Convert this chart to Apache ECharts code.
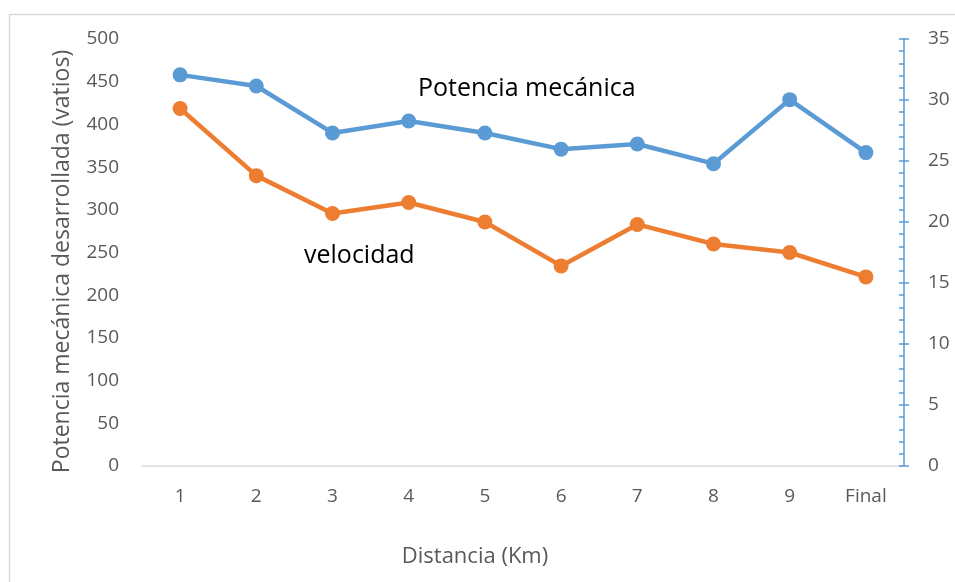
<!DOCTYPE html>
<html>
<head>
<meta charset="utf-8">
<script src="https://cdn.jsdelivr.net/npm/echarts@6/dist/echarts.min.js"></script>
<style>
  html, body { margin: 0; padding: 0; background: #fff; }
  #main { width: 955px; height: 582px; }
</style>
</head>
<body>
<div id="main"></div>
<script>
// datos
var categorias = ['1', '2', '3', '4', '5', '6', '7', '8', '9', 'Final'];
var potencia = [458, 445, 390, 404, 390, 371, 377, 354, 429, 367];
var velocidad = [29.3, 23.8, 20.7, 21.6, 20.0, 16.4, 19.8, 18.2, 17.5, 15.5];

var fuente = '"Open Sans", "Liberation Sans", sans-serif';
var azul = '#5b9bd5';
var naranja = '#ed7d31';

var myChart = echarts.init(document.getElementById('main'));

var option = {
    animation: false,
    textStyle: { fontFamily: fuente },
    grid: { left: 142, right: 51, top: 39, bottom: 116 },
    graphic: [
        {
            type: 'rect',
            shape: { x: 9.5, y: 14.5, width: 1000, height: 1000 },
            style: { fill: 'none', stroke: '#d9d9d9', lineWidth: 1.5 },
            silent: true
        },
        {
            type: 'text', left: 418, top: 76,
            style: { text: 'Potencia mecánica', fontSize: 25, fill: '#000', fontFamily: fuente }
        },
        {
            type: 'text', left: 304, top: 243,
            style: { text: 'velocidad', fontSize: 25, fill: '#000', fontFamily: fuente }
        }
    ],
    xAxis: {
        type: 'category',
        data: categorias,
        boundaryGap: true,
        axisLine: { lineStyle: { color: '#d9d9d9', width: 1.5 } },
        axisTick: { show: false },
        axisLabel: { color: '#595959', fontSize: 19, margin: 21 },
        name: 'Distancia (Km)',
        nameLocation: 'middle',
        nameGap: 80,
        nameTextStyle: { color: '#595959', fontSize: 22, padding: [0, 96, 0, 0] }
    },
    yAxis: [
        {
            type: 'value',
            min: 0, max: 500, interval: 50,
            axisLine: { show: false },
            axisTick: { show: false },
            splitLine: { show: false },
            axisLabel: { color: '#595959', fontSize: 19, margin: 23 },
            name: 'Potencia mecánica desarrollada (vatios)',
            nameLocation: 'middle',
            nameGap: 68,
            nameTextStyle: { color: '#595959', fontSize: 23, padding: [0, 18, 0, 0] }
        },
        {
            type: 'value',
            position: 'right',
            min: 0, max: 35, interval: 5,
            axisLine: { show: true, lineStyle: { color: azul, width: 1.5 } },
            axisTick: { show: true, inside: true, length: 5, lineStyle: { color: azul, width: 1.5 } },
            minorTick: { show: true, splitNumber: 5, length: 5, lineStyle: { color: azul, width: 1.5 } },
            splitLine: { show: false },
            axisLabel: { color: '#595959', fontSize: 19, margin: 24 }
        },
        {
            // marcas exteriores del eje derecho (cruzadas)
            type: 'value',
            position: 'right',
            min: 0, max: 35, interval: 5,
            axisLine: { show: false },
            axisTick: { show: true, inside: false, length: 5, lineStyle: { color: azul, width: 1.5 } },
            splitLine: { show: false },
            axisLabel: { show: false }
        }
    ],
    series: [
        {
            name: 'Potencia mecánica',
            type: 'line',
            yAxisIndex: 0,
            data: potencia,
            symbol: 'circle',
            symbolSize: 15,
            itemStyle: { color: azul },
            lineStyle: { color: azul, width: 4.5 }
        },
        {
            name: 'velocidad',
            type: 'line',
            yAxisIndex: 1,
            data: velocidad,
            symbol: 'circle',
            symbolSize: 15,
            itemStyle: { color: naranja },
            lineStyle: { color: naranja, width: 4.5 }
        }
    ]
};

myChart.setOption(option);
</script>
</body>
</html>
